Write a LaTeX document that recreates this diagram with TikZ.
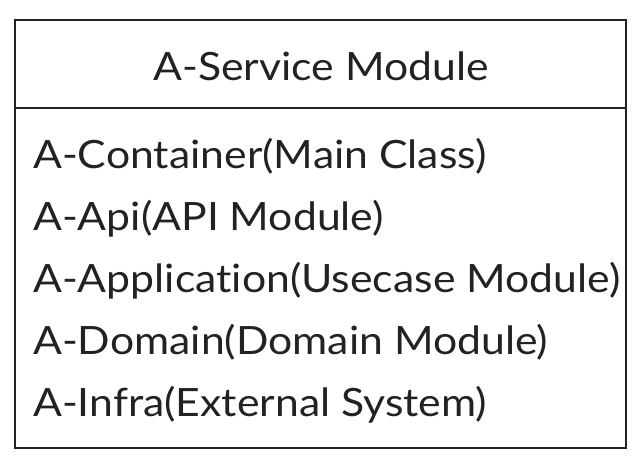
\documentclass[tikz,border=0pt]{standalone}
\usepackage{fontspec}
\setmainfont{Lato}[FakeStretch=1.095, Ligatures=NoCommon]
\definecolor{ink}{HTML}{222222}
\begin{document}
\begin{tikzpicture}[x=1pt,y=-1pt]
\tikzstyle{every node}=[inner sep=0pt, text=ink, font=\fontsize{39}{39}\selectfont]
\tikzstyle{member}=[anchor=base west]
\useasboundingbox (0,0) rectangle (637,466);
\draw[draw=none] (15,20) coordinate (tl) rectangle (626,448) coordinate (br);
\draw[line width=2.4pt, color=ink] (tl) rectangle (br);
\draw (321,80) node (title) [anchor=base] {A-Service Module};
\draw[draw=none] (15,108) coordinate (sl) (626,108) coordinate (sr);
\draw[line width=2.2pt, color=ink] (sl) -- (sr);
\draw (33,168) node (m1) [member] {A-Container(Main Class)};
\draw (33,230) node (m2) [member] {A-Api(API Module)};
\draw (33,292) node (m3) [member] {A-Application(Usecase Module)};
\draw (33,354) node (m4) [member] {A-Domain(Domain Module)};
\draw (33,416) node (m5) [member] {A-Infra(External System)};
\end{tikzpicture}
\end{document}
